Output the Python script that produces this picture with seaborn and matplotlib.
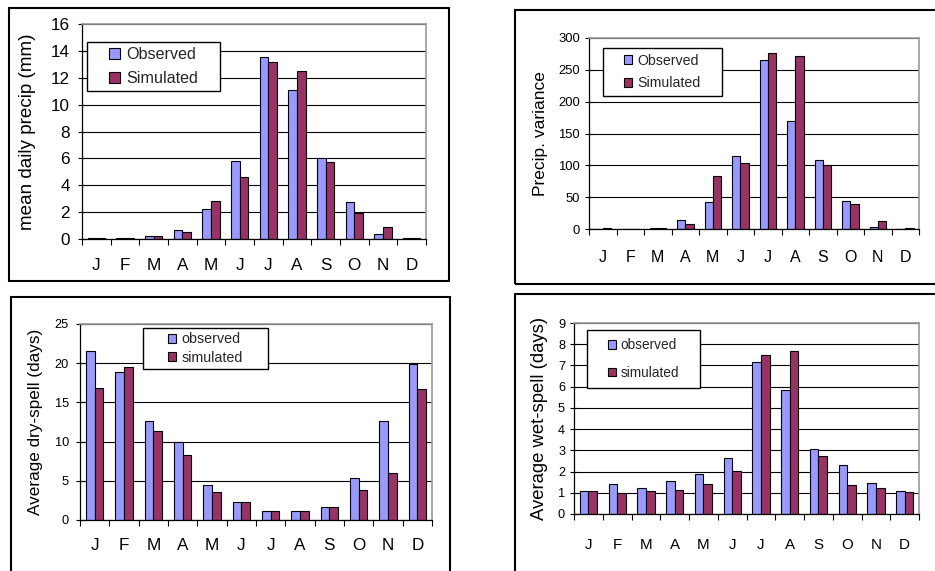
import matplotlib
matplotlib.use("Agg")
import matplotlib.pyplot as plt
from matplotlib.patches import Rectangle, Patch
import seaborn as sns
import pandas as pd
import numpy as np

# ---------------- data ----------------
month_keys = ["Jan", "Feb", "Mar", "Apr", "May", "Jun", "Jul", "Aug", "Sep", "Oct", "Nov", "Dec"]
month_labels = ["J", "F", "M", "A", "M", "J", "J", "A", "S", "O", "N", "D"]

precip_obs = [0.1, 0.1, 0.2, 0.7, 2.2, 5.8, 13.55, 11.1, 6.0, 2.75, 0.4, 0.1]
precip_sim = [0.1, 0.1, 0.2, 0.5, 2.85, 4.65, 13.15, 12.5, 5.7, 1.95, 0.9, 0.1]

var_obs = [0.5, 0.0, 1.5, 14.5, 42, 115, 266, 170, 108, 44, 3.5, 0.0]
var_sim = [1.5, 0.0, 1.5, 8.5, 83, 104, 277, 272, 100, 40, 13, 1.5]

dry_obs = [21.6, 18.9, 12.6, 9.95, 4.45, 2.3, 1.15, 1.15, 1.65, 5.3, 12.6, 19.9]
dry_sim = [16.8, 19.5, 11.4, 8.25, 3.6, 2.3, 1.15, 1.15, 1.65, 3.8, 5.95, 16.7]

wet_obs = [1.07, 1.42, 1.21, 1.56, 1.9, 2.66, 7.14, 5.85, 3.06, 2.31, 1.48, 1.09]
wet_sim = [1.07, 1.0, 1.07, 1.15, 1.42, 2.03, 7.49, 7.7, 2.73, 1.36, 1.22, 1.02]

names_upper = ["Observed", "Simulated"]
names_lower = ["observed", "simulated"]

OBS_C = "#9999FF"
SIM_C = "#993366"

W, H = 935, 571

sns.set_theme(style="white")
plt.rcParams["font.family"] = ["Liberation Sans", "DejaVu Sans"]

fig = plt.figure(figsize=(W / 100, H / 100), dpi=100)
fig.patch.set_facecolor("white")


def frect(x0, y0, x1, y1):
    return [x0 / W, 1 - y1 / H, (x1 - x0) / W, (y1 - y0) / H]


def outer_box(x0, y0, x1, y1):
    r = frect(x0, y0, x1, y1)
    fig.add_artist(Rectangle((r[0], r[1]), r[2], r[3], transform=fig.transFigure,
                             fill=False, ec="black", lw=1.5, zorder=1))


def panel(axbox, obs, sim, names, ylim, yticks, ylabel, fs, legbox, legspacing, handle_px):
    ax = fig.add_axes(frect(*axbox))
    df = pd.DataFrame({
        "month": month_keys * 2,
        "value": list(obs) + list(sim),
        "series": [names[0]] * 12 + [names[1]] * 12,
    })
    sns.barplot(data=df, x="month", y="value", hue="series", order=month_keys,
                hue_order=names, palette=[OBS_C, SIM_C], width=0.6,
                edgecolor="black", linewidth=0.8, ax=ax, legend=False,
                errorbar=None, saturation=1)
    ax.set_xlim(-0.5, 11.5)
    ax.set_ylim(*ylim)
    ax.set_yticks(yticks)
    ax.set_xticks(range(12))
    ax.set_xticklabels(month_labels)
    ax.set_xticks(np.arange(-0.5, 12, 1), minor=True)
    ax.yaxis.grid(True, color="black", lw=0.8)
    ax.xaxis.grid(False)
    ax.set_axisbelow(True)
    for s in ["left", "bottom"]:
        ax.spines[s].set_color("black")
        ax.spines[s].set_linewidth(0.9)
    for s in ["top", "right"]:
        ax.spines[s].set_color("#999999")
        ax.spines[s].set_linewidth(1.2)
    ax.tick_params(axis="x", which="major", length=0, pad=fs["xpad"],
                   labelsize=fs["month"], colors="black")
    ax.tick_params(axis="x", which="minor", length=4.5, width=0.8,
                   direction="out", color="black", bottom=True)
    ax.tick_params(axis="y", which="major", length=5.8, width=0.8,
                   direction="inout", color="black", left=True,
                   labelsize=fs["tick"], pad=fs["ypad"], labelcolor="black")
    ax.set_xlabel("")
    ax.set_ylabel(ylabel, fontsize=fs["ylabel"], color="black")
    ax.yaxis.label.set_verticalalignment("center")
    axw = axbox[2] - axbox[0]
    ax.yaxis.set_label_coords(-fs["ylab_off"] / axw, 0.5)

    # legend box
    r = frect(*legbox)
    fig.add_artist(Rectangle((r[0], r[1]), r[2], r[3], transform=fig.transFigure,
                             facecolor="white", ec="black", lw=1.0, zorder=3))
    handles = [Patch(facecolor=OBS_C, edgecolor="black", lw=0.8, label=names[0]),
               Patch(facecolor=SIM_C, edgecolor="black", lw=0.8, label=names[1])]
    cx = (legbox[0] + legbox[2]) / 2 / W
    cy = 1 - (legbox[1] + legbox[3]) / 2 / H
    hsz = handle_px / (fs["legend"] / 0.72)
    leg = fig.legend(handles=handles, loc="center", bbox_to_anchor=(cx, cy),
                     bbox_transform=fig.transFigure, frameon=False,
                     fontsize=fs["legend"], labelspacing=legspacing,
                     handlelength=hsz, handleheight=hsz, handletextpad=0.35,
                     borderpad=0.0, borderaxespad=0.0)
    leg.set_zorder(5)
    return ax


outer_box(9, 8, 449, 281)
outer_box(515, 10, 960, 284)
outer_box(11, 297, 450, 600)
outer_box(515, 294, 960, 600)

panel((82, 24, 426, 239), precip_obs, precip_sim, names_upper, (0, 16),
      np.arange(0, 17, 2), "mean daily precip (mm)",
      dict(tick=12.3, month=12.3, legend=11.6, ylabel=13.6, xpad=14, ypad=6, ylab_off=54),
      (87, 42, 220, 91), 0.55, 11)

panel((589, 38, 919, 229), var_obs, var_sim, names_upper, (0, 300),
      np.arange(0, 301, 50), "Precip. variance",
      dict(tick=9.4, month=11.5, legend=10.2, ylabel=12.5, xpad=15, ypad=3.5, ylab_off=48),
      (603, 48, 722, 96), 0.6, 8)

panel((80, 324, 432, 520), dry_obs, dry_sim, names_lower, (0, 25),
      np.arange(0, 26, 5), "Average dry-spell (days)",
      dict(tick=9.2, month=12.3, legend=10.3, ylabel=12.3, xpad=13, ypad=5, ylab_off=44),
      (143, 328, 268, 369), 0.3, 8)

panel((574, 323, 919, 514), wet_obs, wet_sim, names_lower, (0, 9),
      np.arange(0, 10, 1), "Average wet-spell (days)",
      dict(tick=9.2, month=10.9, legend=9.8, ylabel=13.3, xpad=17, ypad=3.5, ylab_off=35),
      (587, 330, 700, 388), 1.0, 8)

fig.savefig("out.png", dpi=100, facecolor="white")
